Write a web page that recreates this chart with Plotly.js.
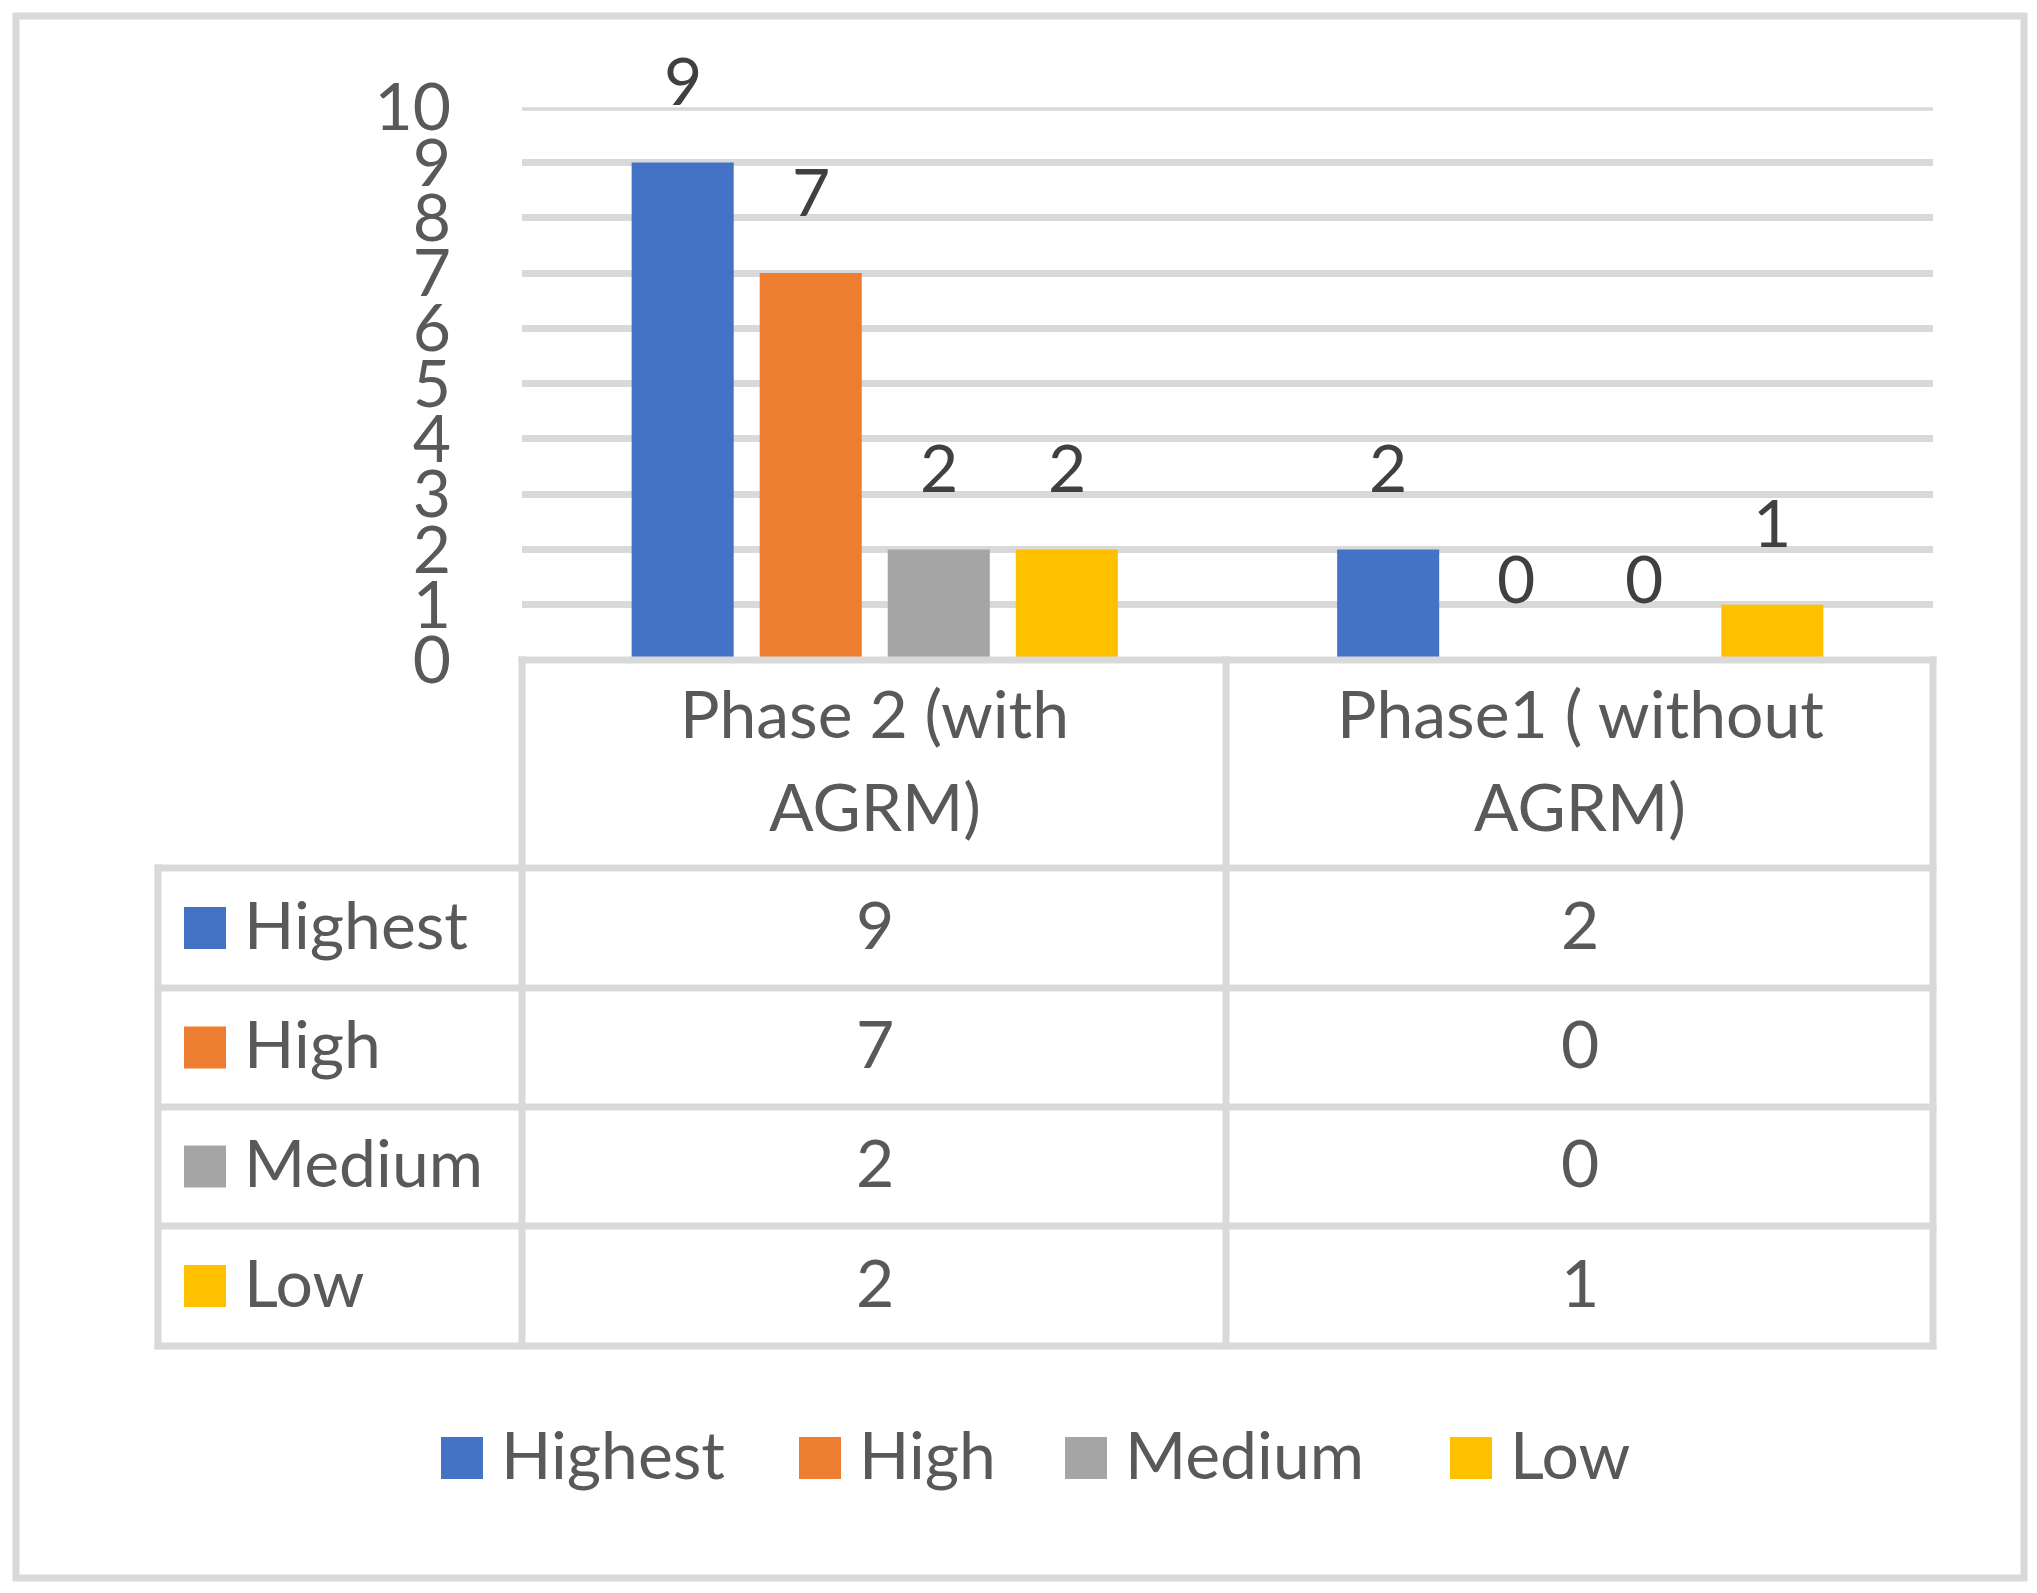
<!DOCTYPE html>
<html><head><meta charset="utf-8">
<script src="https://cdn.plot.ly/plotly-3.0.1.min.js"></script>
<style>html,body{margin:0;padding:0;background:#fff}#chart{width:2037px;height:1593px}</style>
</head><body><div id="chart"></div>
<script>
// ---- data ----
const categories = ['Phase 2 (with AGRM)', 'Phase1 ( without AGRM)'];
const categoryLines = [['Phase 2 (with', 'AGRM)'], ['Phase1 ( without', 'AGRM)']];
const seriesNames = ['Highest', 'High', 'Medium', 'Low'];
const highest = [9, 2];
const high = [7, 0];
const medium = [2, 0];
const low = [2, 1];
const yTicks = [0, 1, 2, 3, 4, 5, 6, 7, 8, 9, 10];
const seriesValues = [highest, high, medium, low];
const colors = ['#4472C4', '#ED7D31', '#A5A5A5', '#FFC000'];

// ---- geometry / style ----
const W = 2037, H = 1593;
const px = x => x / W;
const py = y => 1 - y / H;
const FONT = 'Lato, "Open Sans", sans-serif';
const TXT = '#595959', LBL = '#404040', GRID = '#d9d9d9', LW = 7;
const FS = 66;
const plotL = 522, plotR = 1933, plotT = 107.3, plotB = 660;
const tblL = 158, colMid = 1226;
const rowLines = [868, 988, 1107, 1226, 1346];
const BARGAP = 0.274, GROUPGAP = 0.203;
const TY = 5; // vertical nudge of table / legend texts

const traces = seriesNames.map((n, i) => ({
  type: 'bar', name: n, x: categories, y: seriesValues[i],
  marker: {color: colors[i], line: {width: 0}}
}));

const shapes = [];
const annotations = [];
const hl = LW / 2;
const line = (x0, y0, x1, y1) => shapes.push({
  type: 'line', xref: 'paper', yref: 'paper',
  x0: px(x0), y0: py(y0), x1: px(x1), y1: py(y1),
  line: {color: GRID, width: LW}, layer: 'above'
});
// outer frame
shapes.push({type: 'rect', xref: 'paper', yref: 'paper', x0: px(16), y0: py(16), x1: px(2024), y1: py(1578),
  line: {color: GRID, width: LW}, fillcolor: 'rgba(0,0,0,0)', layer: 'below'});
// top gridline (at the axis maximum)
shapes.push({type: 'line', xref: 'paper', yref: 'y', x0: px(plotL), x1: px(plotR),
  y0: yTicks[yTicks.length - 1], y1: yTicks[yTicks.length - 1], line: {color: GRID, width: LW}, layer: 'below'});
// data table grid
line(plotL - hl, plotB, plotR + hl, plotB);
rowLines.forEach(y => line(tblL - hl, y, plotR + hl, y));
line(tblL, rowLines[0] - hl, tblL, rowLines[4] + hl);
[plotL, colMid, plotR].forEach(x => line(x, plotB - hl, x, rowLines[4] + hl));

const tf = c => ({family: FONT, size: FS, color: c});

// data labels above bars
const slot = (1 - BARGAP) / seriesNames.length;
seriesValues.forEach((vals, s) => vals.forEach((v, c) => annotations.push({
  xref: 'x', yref: 'y', x: c + (s - (seriesNames.length - 1) / 2) * slot, y: v,
  text: String(v), showarrow: false, yanchor: 'middle', yshift: 83, font: tf(LBL)
})));

// table header (category names, two lines)
const hdrMid = (plotB + rowLines[0]) / 2;
const pitch = 93;
categoryLines.forEach((lines, c) => lines.forEach((t, k) => annotations.push({
  xref: 'x', yref: 'paper', x: c, y: py(hdrMid + (k - (lines.length - 1) / 2) * pitch),
  text: t, showarrow: false, yanchor: 'middle', yshift: TY, font: tf(TXT)
})));

// table body
seriesNames.forEach((n, s) => {
  const yc = (rowLines[s] + rowLines[s + 1]) / 2;
  shapes.push({type: 'rect', xref: 'paper', yref: 'paper', x0: px(184), x1: px(226), y0: py(yc + 21), y1: py(yc - 21),
    fillcolor: colors[s], line: {width: 0}});
  annotations.push({xref: 'paper', yref: 'paper', x: px(242), y: py(yc), xanchor: 'left', yanchor: 'middle', yshift: TY,
    text: n, showarrow: false, font: tf(TXT)});
  categories.forEach((cat, c) => annotations.push({
    xref: 'x', yref: 'paper', x: c, y: py(yc), text: String(seriesValues[s][c]),
    showarrow: false, yanchor: 'middle', yshift: TY, font: tf(TXT)
  }));
});

// legend
const legendX = [441, 799, 1065, 1450];
const legendY = 1458;
seriesNames.forEach((n, s) => {
  shapes.push({type: 'rect', xref: 'paper', yref: 'paper', x0: px(legendX[s]), x1: px(legendX[s] + 42),
    y0: py(legendY + 21), y1: py(legendY - 21), fillcolor: colors[s], line: {width: 0}});
  annotations.push({xref: 'paper', yref: 'paper', x: px(legendX[s] + 58), y: py(legendY), xanchor: 'left', yanchor: 'middle',
    yshift: TY, text: n, showarrow: false, font: tf(TXT)});
});

const layout = {
  width: W, height: H, margin: {l: 0, r: 0, t: 0, b: 0},
  paper_bgcolor: '#ffffff', plot_bgcolor: '#ffffff', showlegend: false,
  barmode: 'group', bargap: BARGAP, bargroupgap: GROUPGAP,
  font: {family: FONT, color: TXT},
  xaxis: {domain: [px(plotL), px(plotR)], type: 'category', range: [-0.5, 1.5], showticklabels: false,
    showgrid: false, zeroline: false, showline: false, fixedrange: true},
  yaxis: {domain: [py(plotB), py(plotT)], range: [0, 10], tickvals: yTicks, tickfont: tf(TXT),
    showgrid: true, gridcolor: GRID, gridwidth: LW, zeroline: false, showline: false, ticks: '',
    ticklabelstandoff: 70, fixedrange: true},
  shapes: shapes, annotations: annotations
};
Plotly.newPlot('chart', traces, layout, {displayModeBar: false, staticPlot: true});
</script></body></html>
